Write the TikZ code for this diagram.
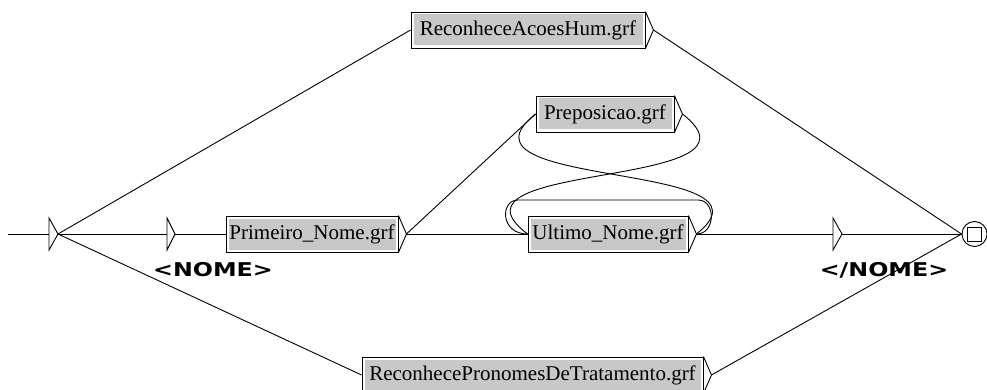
\documentclass[tikz,border=0pt]{standalone}
\usepackage{fontspec}
\setmainfont{Liberation Serif}
\newfontfamily\tagfont{DejaVu Sans}
\usetikzlibrary{calc}
\definecolor{boxgray}{RGB}{200,200,200}
\begin{document}
\begin{tikzpicture}[x=1pt,y=-1pt, line width=0.9pt,
  grfbox/.style={draw, line width=0.9pt, minimum height=36pt, inner sep=0pt,
    font=\fontsize{21}{24}\selectfont,
    path picture={\fill[boxgray] ([shift={(2.5pt,2.5pt)}]path picture bounding box.south west) rectangle ([shift={(-2.5pt,-2.5pt)}]path picture bounding box.north east);}},
  tag/.style={font=\tagfont\bfseries\fontsize{19}{22}\selectfont, inner sep=0pt}]
\fill[white] (0,0) rectangle (987,390);
\useasboundingbox (0,0) rectangle (987,390);

% boxes
\node[grfbox, minimum width=234pt] (acoes) at (528,30) {ReconheceAcoesHum.grf};
\node[grfbox, minimum width=138pt] (prep) at (605,114) {Preposicao.grf};
\node[grfbox, minimum width=172pt] (prim) at (312,234) {Primeiro\_Nome.grf};
\node[grfbox, minimum width=160pt] (ult) at (608,234) {Ultimo\_Nome.grf};
\node[grfbox, minimum width=341pt] (trat) at (532.5,375) {ReconhecePronomesDeTratamento.grf};
\foreach \b in {acoes,prep,prim,ult,trat}{
  \draw (\b.north east) -- ($(\b.east)+(8,0)$) coordinate (\b-o) -- (\b.south east);
}

% states
\coordinate (in) at (8,234);
\coordinate (s0) at (49,234);
\draw (49,218) -- (58,234) coordinate (s0o) -- (49,250) -- cycle;
\coordinate (s1) at (167,234);
\draw (167,218) -- (175,234) coordinate (s1o) -- (167,250) -- cycle;
\coordinate (s2) at (833,234);
\draw (833,218) -- (842,234) coordinate (s2o) -- (833,250) -- cycle;
\node[circle, draw, minimum size=25pt, inner sep=0pt] (fin) at (974.5,234) {};
\node[draw, minimum size=14pt, inner sep=0pt] (finsq) at (fin.center) {};

% connectors
\draw (in) -- (s0);
\draw (s0o) -- (s1);
\draw (s0o) -- (acoes.west);
\draw (s0o) -- (trat.west);
\draw (s1o) -- (prim.west);
\draw (prim-o) -- (ult.west);
\draw (prim-o) -- (prep.west);
\draw (prep-o) .. controls (780,190) and (430,160) .. (ult.west);
\draw (ult-o) .. controls (790,160) and (440,190) .. (prep.west);
\draw (ult-o) .. controls (716,234) and (716,200) .. (698,200) -- (518,200) .. controls (500,200) and (500,234) .. (ult.west);
\draw (ult-o) -- (s2);
\draw (s2o) -- (fin.west);
\draw (acoes-o) -- (fin.west);
\draw (trat-o) -- (fin.west);

% outputs
\node[tag] (nome) at (213,270) {\scalebox{1.25}[1]{<NOME>}};
\node[tag] (nomeend) at (884,270) {\scalebox{1.25}[1]{</NOME>}};
\end{tikzpicture}
\end{document}
